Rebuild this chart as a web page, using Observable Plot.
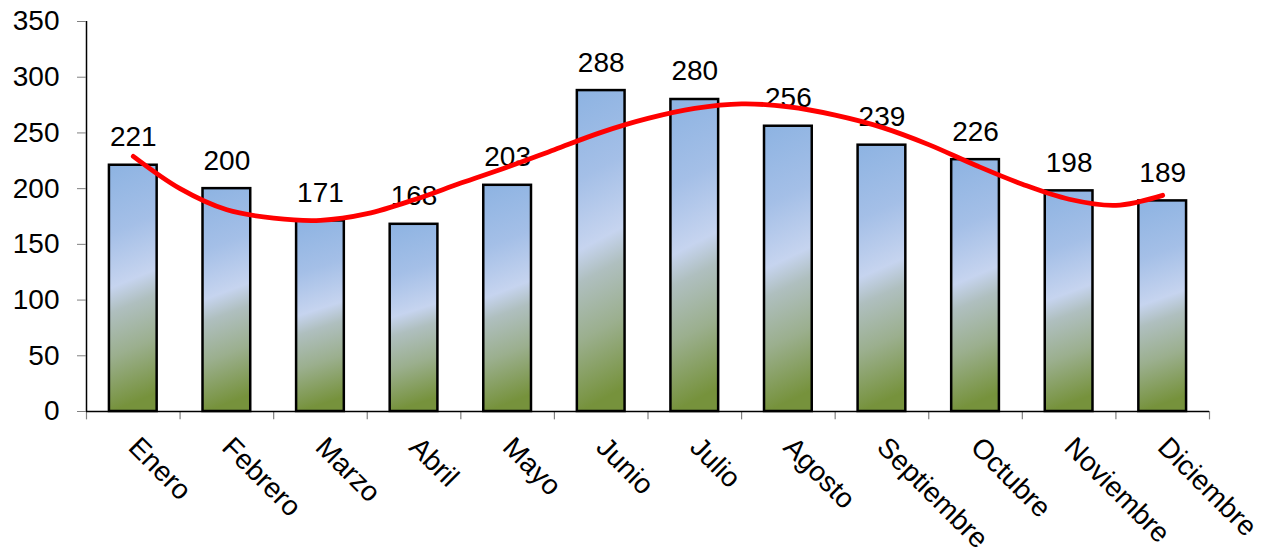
<!DOCTYPE html>
<html>
<head>
<meta charset="utf-8">
<script src="https://cdn.jsdelivr.net/npm/d3@7"></script>
<script src="https://cdn.jsdelivr.net/npm/@observablehq/plot@0.6"></script>
<style>
  html, body { margin: 0; padding: 0; background: #fff; }
  #chart svg { display: block; font-family: "Liberation Sans", Arial, sans-serif; }
</style>
</head>
<body>
<div id="chart"></div>
<script>
// Categories (months)
const months = ["Enero","Febrero","Marzo","Abril","Mayo","Junio","Julio","Agosto","Septiembre","Octubre","Noviembre","Diciembre"];
// Bar values
const values = [221, 200, 171, 168, 203, 288, 280, 256, 239, 226, 198, 189];
// Trend line (month index positions, half steps)
const trendPos = [0, 0.5, 1, 1.5, 2, 2.5, 3, 3.5, 4, 4.5, 5, 5.5, 6, 6.5, 7, 7.5, 8, 8.5, 9, 9.5, 10, 10.5, 11];
const trendValues = [229, 200, 181, 173.5, 171.5, 177.5, 190, 205, 219.5, 235, 250.5, 263, 272, 276, 273.5, 266, 255, 239.5, 221, 204, 190.5, 185, 194];
// Y tick labels
const yTicks = [0, 50, 100, 150, 200, 250, 300, 350];

const data = months.map((m, i) => ({month: m, i, value: values[i]}));
const trend = trendPos.map((p, k) => ({p, v: trendValues[k]}));
const boundaries = months.map((m, i) => i - 0.5).concat([months.length - 0.5]);

const chart = Plot.plot({
  width: 1265,
  height: 555,
  marginLeft: 86,
  marginRight: 56,
  marginTop: 21,
  marginBottom: 144,
  style: {fontFamily: '"Liberation Sans", Arial, sans-serif', background: "#fff", color: "black"},
  x: {type: "linear", domain: [-0.5, months.length - 0.5]},
  y: {domain: [0, 350]},
  marks: [
    Plot.rectY(data, {
      x1: d => d.i - 0.255, x2: d => d.i + 0.255, y1: 0, y2: "value",
      fill: "url(#barGrad)", stroke: "black", strokeWidth: 2.5
    }),
    Plot.ruleX(boundaries, {x: d => d, y1: 0, y2: -7.5, stroke: "#808080", strokeWidth: 1.2}),
    Plot.ruleY([0], {stroke: "black", strokeWidth: 1.5}),
    Plot.ruleX([-0.5], {y1: 0, y2: 350, stroke: "black", strokeWidth: 1.5}),
    Plot.axisY({ticks: yTicks, tickSize: 9, tickPadding: 18, fontSize: 28, stroke: "#808080", fill: "black", label: null}),
    Plot.axisX({
      ticks: months.map((m, i) => i), tickFormat: i => months[i],
      tickSize: 0, tickPadding: 31, tickRotate: 45, textAnchor: "start",
      fontSize: 28, fill: "black", label: null
    }),
    Plot.text(data, {x: "i", y: "value", text: d => String(d.value), dy: -28, fontSize: 28, fill: "black"}),
    Plot.line(trend, {x: "p", y: "v", stroke: "#FF0000", strokeWidth: 4.8, curve: "catmull-rom"})
  ]
});

const defs = d3.select(chart).insert("defs", ":first-child");
const grad = defs.append("linearGradient")
  .attr("id", "barGrad")
  .attr("x1", 0).attr("y1", 0).attr("x2", 0.08).attr("y2", 1);
[
  [0, "#8DB3E2"],
  [0.28, "#A4BFE7"],
  [0.5, "#C6D4EF"],
  [0.6, "#AFBFBF"],
  [0.78, "#9BAF8E"],
  [1, "#76923C"]
].forEach(([o, c]) => grad.append("stop").attr("offset", o).attr("stop-color", c));

document.getElementById("chart").appendChild(chart);
</script>
</body>
</html>
